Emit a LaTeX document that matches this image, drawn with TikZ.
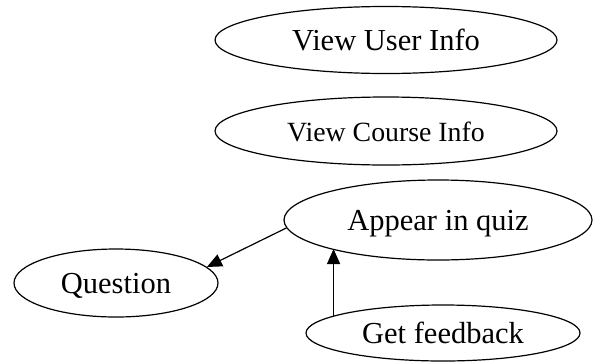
\documentclass[tikz,border=0pt]{standalone}
\usepackage{fontspec}
\setmainfont{Liberation Serif}
\usetikzlibrary{
  shapes.geometric,
  arrows.meta,
}
\begin{document}
\begin{tikzpicture}[x=1pt,y=-1pt,
  usecase/.style={draw,ellipse,line width=1.2pt,inner sep=0pt,
    font=\fontsize{30.5}{33}\selectfont,text height=20pt,text depth=0pt},
  flow/.style={-{Triangle[length=15pt,width=13pt]},line width=1.2pt}]
\useasboundingbox (0,0) rectangle (593,362);
\node[usecase,minimum width=342pt,minimum height=67pt] (userinfo) at (386,40) {View User Info};
\node[usecase,minimum width=342pt,minimum height=68pt,font=\fontsize{27.8}{30}\selectfont] (courseinfo) at (386,131) {View Course Info};
\node[usecase,minimum width=308pt,minimum height=80pt] (quiz) at (438,220) {Appear in quiz};
\node[usecase,minimum width=204pt,minimum height=68pt] (question) at (116,283) {Question};
\node[usecase,minimum width=274pt,minimum height=56pt] (feedback) at (443,333) {Get feedback};
\draw[flow] (quiz.183) -- (question.10);
\draw[flow] (feedback.171.8) -- (feedback.171.8 |- quiz.195.2);
\end{tikzpicture}
\end{document}
